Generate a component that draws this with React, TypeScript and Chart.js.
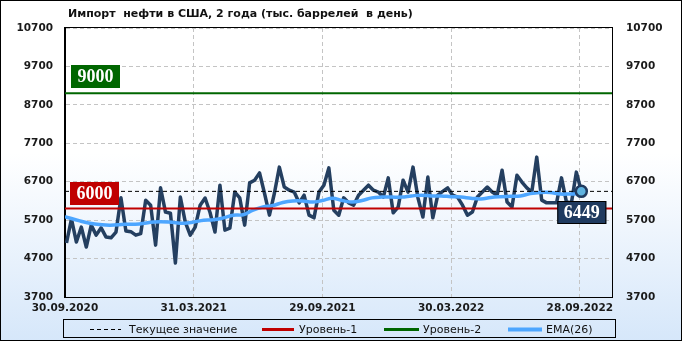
import { useEffect, useRef } from 'react';
import { Chart, registerables } from 'chart.js';

Chart.register(...registerables);

const TITLE = 'Импорт  нефти в США, 2 года (тыс. баррелей  в день)';
const xTickWeeks = [0, 26, 52, 78, 104];
const xTickLabels = ['30.09.2020', '31.03.2021', '29.09.2021', '30.03.2022', '28.09.2022'];
const yTicks = [3700, 4700, 5700, 6700, 7700, 8700, 9700, 10700];
const X_MAX = 110.5;
const FIRST_WEEK = 0.3;

const importValues = [
  5105, 5730, 5130, 5520, 5000, 5570, 5310, 5500, 5260, 5240,
  5390, 6280, 5420, 5400, 5310, 5350, 6220, 6090, 5050, 6540,
  5910, 5880, 4585, 6300, 5650, 5310, 5520, 6090, 6275, 5900,
  5390, 6610, 5440, 5490, 6430, 6280, 5570, 6670, 6740, 6930,
  6400, 5830, 6400, 7080, 6560, 6480, 6430, 6150, 6350, 5830,
  5760, 6430, 6610, 7060, 5960, 5830, 6280, 6150, 6090, 6350,
  6480, 6610, 6480, 6430, 6300, 6800, 5890, 6040, 6740, 6430,
  7080, 6280, 5780, 6820, 5760, 6350, 6450, 6540, 6350, 6300,
  6090, 5830, 5910, 6300, 6430, 6560, 6430, 6350, 7000, 6170,
  6040, 6870, 6690, 6540, 6430, 7340, 6220, 6150, 6150, 6150,
  6800, 6170, 6150, 6950, 6449,
];

const emaWeeks = [
  0, 3, 6, 9, 12, 15, 18, 21, 24, 26, 28, 30, 32, 34, 36, 38, 40, 42, 44, 46,
  48, 50, 52, 54, 56, 58, 60, 62, 64, 66, 68, 70, 72, 74, 76, 78, 80, 82, 84,
  86, 88, 90, 92, 94, 96, 98, 100, 102, 104.3,
];
const emaValues = [
  5790, 5680, 5600, 5570, 5590, 5600, 5650, 5650, 5620, 5650, 5700, 5710, 5760,
  5830, 5840, 5960, 6040, 6080, 6160, 6200, 6200, 6170, 6210, 6270, 6210, 6170,
  6210, 6280, 6300, 6300, 6300, 6330, 6350, 6330, 6330, 6310, 6300, 6270, 6250,
  6290, 6310, 6320, 6330, 6390, 6420, 6420, 6380, 6380, 6390,
];

const level1 = 6000;
const level2 = 9000;
const legendLabels = ['Текущее значение', 'Уровень-1', 'Уровень-2', 'EMA(26)'];

const NAVY = '#243F60';
const EMA_BLUE = '#4DA6FF';
const RED = '#C00000';
const GREEN = '#006600';
const TICK_FONT = { family: 'DejaVu Sans', weight: 'bold' as const, size: 10.5 };

export default function App() {
  const ref = useRef<HTMLCanvasElement>(null);

  useEffect(() => {
    document.body.style.margin = '0';
    const canvas = ref.current!;
    const last = importValues[importValues.length - 1];
    const lastWeek = FIRST_WEEK + importValues.length - 1;

    const decor = {
      id: 'decor',
      afterDatasetsDraw(chart: any) {
        const ctx = chart.ctx;
        const a = chart.chartArea;
        const ys = chart.scales.y;
        const xs = chart.scales.x;
        ctx.save();
        ctx.strokeStyle = '#000';
        ctx.lineWidth = 1;
        ctx.strokeRect(Math.round(a.left) - 0.5, Math.round(a.top) - 0.5, Math.round(a.right - a.left) + 1, Math.round(a.bottom - a.top) + 1);

        const box = (text: string, x: number, y: number, fill: string, border?: string) => {
          const w = 49, h = 23;
          ctx.fillStyle = fill;
          ctx.fillRect(x, y, w, h);
          if (border) {
            ctx.strokeStyle = border;
            ctx.lineWidth = 1;
            ctx.strokeRect(x + 0.5, y + 0.5, w - 1, h - 1);
          }
          ctx.fillStyle = '#fff';
          ctx.font = 'bold 18px "Liberation Serif"';
          ctx.textAlign = 'center';
          ctx.textBaseline = 'middle';
          ctx.fillText(text, x + w / 2, y + h / 2 + 1);
        };
        const y2 = ys.getPixelForValue(level2);
        box(String(level2), a.left + 6, Math.round(y2) - 28, GREEN);
        const y1 = ys.getPixelForValue(level1);
        box(String(level1), a.left + 5, Math.round(y1) - 27, RED);
        const py = ys.getPixelForValue(last);
        const px = xs.getPixelForValue(lastWeek);
        box(String(last), Math.min(px - 24, a.right - 52), Math.round(py) + 10, '#1F3A5F', '#000');
        ctx.restore();
      },
      afterDraw(chart: any) {
        const ctx = chart.ctx;
        ctx.save();
        ctx.fillStyle = '#111';
        ctx.font = 'bold 11px "DejaVu Sans"';
        ctx.textAlign = 'left';
        ctx.textBaseline = 'middle';
        ctx.fillText(TITLE, 68, 14);
        ctx.strokeStyle = '#000';
        ctx.lineWidth = 1;
        ctx.strokeRect(63.5, 319.5, 552, 18);
        const ly = 329;
        const items = [
          { x1: 90, x2: 121, color: '#000', dash: [4, 3], w: 1, tx: 129 },
          { x1: 262, x2: 294, color: RED, dash: [], w: 3, tx: 299 },
          { x1: 384, x2: 419, color: GREEN, dash: [], w: 3, tx: 423 },
          { x1: 508, x2: 542, color: EMA_BLUE, dash: [], w: 4, tx: 546 },
        ];
        ctx.font = '11px "DejaVu Sans"';
        ctx.textBaseline = 'middle';
        items.forEach((it, i) => {
          ctx.beginPath();
          ctx.setLineDash(it.dash);
          ctx.strokeStyle = it.color;
          ctx.lineWidth = it.w;
          ctx.moveTo(it.x1, ly + 0.5);
          ctx.lineTo(it.x2, ly + 0.5);
          ctx.stroke();
          ctx.setLineDash([]);
          ctx.fillStyle = '#111';
          ctx.fillText(legendLabels[i], it.tx, ly + 1);
        });
        ctx.strokeStyle = '#000';
        ctx.lineWidth = 1;
        ctx.strokeRect(0.5, 0.5, chart.width - 1, chart.height - 1);
        ctx.restore();
      },
    };

    const hline = (v: number) => [{ x: 0, y: v }, { x: X_MAX, y: v }];
    const yTickLabel = (v: any) => String(v);

    const chart = new Chart(canvas, {
      type: 'line',
      data: {
        datasets: [
          {
            label: 'last',
            data: [{ x: lastWeek, y: last }],
            showLine: false,
            pointRadius: 5.5,
            pointBackgroundColor: '#5FB3E0',
            pointBorderColor: '#1F3A5F',
            pointBorderWidth: 2.5,
            order: 0,
          },
          {
            label: legendLabels[1],
            data: hline(level1),
            borderColor: RED,
            borderWidth: 2,
            pointRadius: 0,
            order: 1,
          },
          {
            label: legendLabels[2],
            data: hline(level2),
            borderColor: GREEN,
            borderWidth: 2,
            pointRadius: 0,
            order: 1,
          },
          {
            label: legendLabels[0],
            data: hline(last),
            borderColor: '#000',
            borderWidth: 1,
            borderDash: [4, 3],
            pointRadius: 0,
            order: 2,
          },
          {
            label: legendLabels[3],
            data: emaWeeks.map((w, i) => ({ x: w, y: emaValues[i] })),
            borderColor: EMA_BLUE,
            borderWidth: 3.5,
            pointRadius: 0,
            tension: 0.4,
            order: 3,
          },
          {
            label: 'data',
            data: importValues.map((v, i) => ({ x: FIRST_WEEK + i, y: v })),
            borderColor: NAVY,
            borderWidth: 3.5,
            pointRadius: 0,
            borderJoinStyle: 'round',
            order: 4,
          },
        ] as any,
      },
      options: {
        animation: false,
        responsive: false,
        devicePixelRatio: 1,
        layout: { padding: { top: 28, left: 0, right: 0, bottom: 0 } },
        plugins: { legend: { display: false }, tooltip: { enabled: false }, title: { display: false } },
        scales: {
          x: {
            type: 'linear',
            min: 0,
            max: X_MAX,
            afterBuildTicks: (s: any) => {
              s.ticks = xTickWeeks.map((v) => ({ value: v }));
            },
            afterFit: (s: any) => {
              s.height = 44;
            },
            ticks: {
              autoSkip: false,
              maxRotation: 0,
              padding: 5,
              color: '#1a1a1a',
              font: TICK_FONT,
              callback: (v: any) => {
                const i = xTickWeeks.indexOf(Number(v));
                return i >= 0 ? xTickLabels[i] : '';
              },
            },
            grid: { color: '#c4c4c4', lineWidth: 1, drawTicks: false },
            border: { color: '#000', width: 1, dash: [4, 3] },
          },
          y: {
            position: 'left',
            min: yTicks[0],
            max: yTicks[yTicks.length - 1],
            afterBuildTicks: (s: any) => {
              s.ticks = yTicks.map((v) => ({ value: v }));
            },
            afterFit: (s: any) => {
              s.width = 65;
            },
            ticks: { padding: 12, color: '#1a1a1a', font: TICK_FONT, callback: yTickLabel },
            grid: { color: '#c4c4c4', lineWidth: 1, drawTicks: false },
            border: { color: '#000', width: 1, dash: [4, 3] },
          },
          y2: {
            position: 'right',
            min: yTicks[0],
            max: yTicks[yTicks.length - 1],
            afterBuildTicks: (s: any) => {
              s.ticks = yTicks.map((v) => ({ value: v }));
            },
            afterFit: (s: any) => {
              s.width = 70;
            },
            ticks: { padding: 14, color: '#1a1a1a', font: TICK_FONT, callback: yTickLabel },
            grid: { display: false, drawTicks: false },
            border: { color: '#000', width: 1 },
          },
        },
      } as any,
      plugins: [decor],
    });
    return () => chart.destroy();
  }, []);

  return (
    <canvas
      ref={ref}
      width={682}
      height={341}
      style={{
        display: 'block',
        width: 682,
        height: 341,
        background: 'linear-gradient(to bottom, #ffffff 0%, #ffffff 45%, #d6e7fa 100%)',
      }}
    />
  );
}
